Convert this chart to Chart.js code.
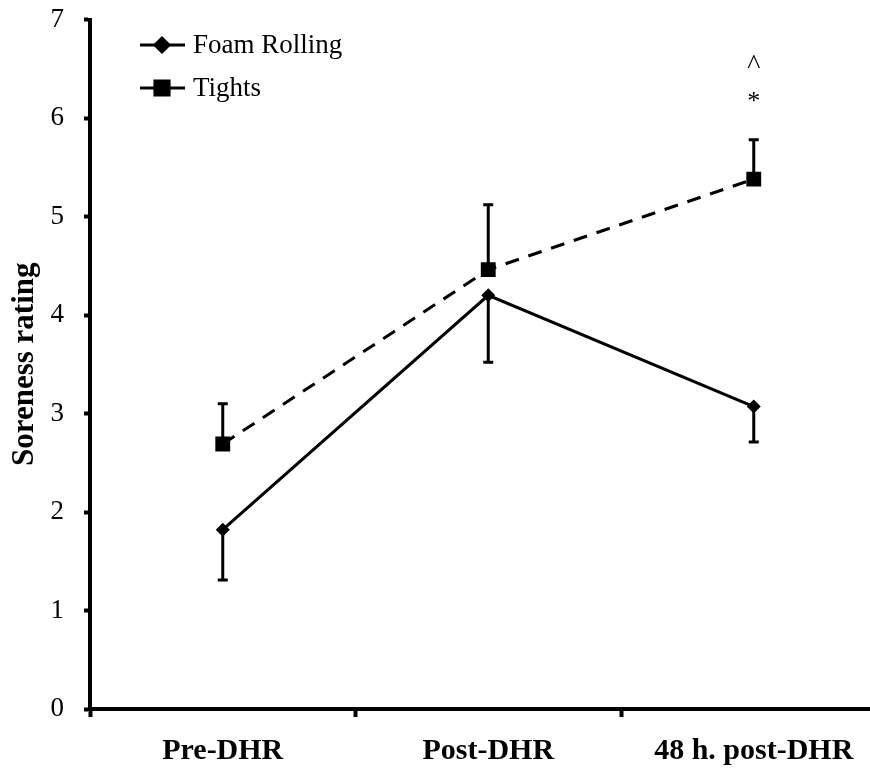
<!DOCTYPE html>
<html>
<head>
<meta charset="utf-8">
<script src="https://cdn.jsdelivr.net/npm/chart.js@4"></script>
<style>
  html, body { margin: 0; padding: 0; background: #fff; overflow: hidden; }
  #wrap { width: 870px; height: 769px; overflow: hidden; }
</style>
</head>
<body>
<div id="wrap"><canvas id="chart" width="897" height="769"></canvas></div>
<script>
const categories = ['Pre-DHR', 'Post-DHR', '48 h. post-DHR'];
const foamValues = [1.82, 4.20, 3.07];
const foamErrors = [0.51, 0.68, 0.36];
const tightsValues = [2.69, 4.46, 5.38];
const tightsErrors = [0.41, 0.66, 0.40];
const tightsMarks = ['', '', '*\n^'];
const yTicks = [0, 1, 2, 3, 4, 5, 6, 7];

const serif = '"Liberation Serif", "Times New Roman", serif';

// error bars: foam rolling drawn downward, tights upward
const errorBars = {
  id: 'errorBars',
  beforeDatasetsDraw(chart) {
    const { ctx, scales: { x, y } } = chart;
    ctx.save();
    ctx.strokeStyle = '#000';
    ctx.lineWidth = 3;
    const bar = (i, from, to) => {
      const px = x.getPixelForValue(i);
      const y0 = y.getPixelForValue(from), y1 = y.getPixelForValue(to);
      ctx.beginPath();
      ctx.moveTo(px, y0); ctx.lineTo(px, y1);
      ctx.moveTo(px - 5, y1); ctx.lineTo(px + 5, y1);
      ctx.stroke();
    };
    foamValues.forEach((v, i) => bar(i, v, v - foamErrors[i]));
    tightsValues.forEach((v, i) => bar(i, v, v + tightsErrors[i]));

    // significance marks above the tights error bar
    ctx.fillStyle = '#000';
    ctx.textAlign = 'center';
    ctx.textBaseline = 'middle';
    tightsMarks.forEach((m, i) => {
      if (!m) return;
      const px = x.getPixelForValue(i);
      const top = y.getPixelForValue(tightsValues[i] + tightsErrors[i]);
      const [star, caret] = m.split('\n');
      ctx.font = '26px ' + serif;
      ctx.fillText(star, px, top - 37);
      ctx.font = '28px ' + serif;
      ctx.fillText(caret, px, top - 74);
    });
    ctx.restore();
  }
};

// legend inside the plot, top left
const legendInside = {
  id: 'legendInside',
  afterDraw(chart) {
    const { ctx } = chart;
    ctx.save();
    ctx.font = '27px ' + serif;
    ctx.fillStyle = '#000';
    ctx.textBaseline = 'middle';
    ctx.textAlign = 'left';
    const rows = [
      { label: 'Foam Rolling', y: 45, style: 'rectRot', r: 7 },
      { label: 'Tights', y: 88, style: 'rect', r: 10 }
    ];
    rows.forEach(row => {
      ctx.strokeStyle = '#000';
      ctx.lineWidth = 3;
      ctx.beginPath();
      ctx.moveTo(140, row.y); ctx.lineTo(185, row.y);
      ctx.stroke();
      Chart.helpers.drawPoint(ctx, { pointStyle: row.style, radius: row.r, borderWidth: 1 }, 162, row.y);
      ctx.fill();
      ctx.fillText(row.label, 193, row.y + 1);
    });
    ctx.restore();
  }
};

new Chart(document.getElementById('chart'), {
  type: 'line',
  data: {
    labels: categories,
    datasets: [
      {
        label: 'Foam Rolling',
        data: foamValues,
        borderColor: '#000',
        backgroundColor: '#000',
        borderWidth: 3,
        pointStyle: 'rectRot',
        pointRadius: 7,
        pointBorderWidth: 0,
        tension: 0
      },
      {
        label: 'Tights',
        data: tightsValues,
        borderColor: '#000',
        backgroundColor: '#000',
        borderWidth: 3,
        borderDash: [14, 10],
        pointStyle: 'rect',
        pointRadius: 10.5,
        pointBorderWidth: 0,
        tension: 0
      }
    ]
  },
  options: {
    responsive: false,
    animation: false,
    layout: { padding: { top: 0, right: 0, bottom: 0, left: 0 } },
    plugins: { legend: { display: false }, tooltip: { enabled: false } },
    scales: {
      x: {
        offset: true,
        grid: { offset: true, drawOnChartArea: false, drawTicks: true, tickLength: 8, tickWidth: 4, color: '#000' },
        border: { color: '#000', width: 4 },
        ticks: { color: '#000', padding: 16, maxRotation: 0, font: { family: serif, size: 30, weight: 'bold' } },
        afterFit: s => { s.height = 60; }
      },
      y: {
        min: yTicks[0],
        max: yTicks[yTicks.length - 1],
        afterBuildTicks: s => { s.ticks = yTicks.map(v => ({ value: v })); },
        grid: { drawOnChartArea: false, drawTicks: true, tickLength: 6, tickWidth: 4, color: '#000' },
        border: { color: '#000', width: 4 },
        ticks: { color: '#000', padding: 20, font: { family: serif, size: 27 } },
        title: { display: true, text: 'Soreness rating', color: '#000', padding: { top: 6, bottom: 0 }, font: { family: serif, size: 31, weight: 'bold' } },
        afterFit: s => { s.width = 90; s.paddingTop = 19.5; s.paddingBottom = 0; }
      }
    }
  },
  plugins: [errorBars, legendInside]
});
</script>
</body>
</html>
